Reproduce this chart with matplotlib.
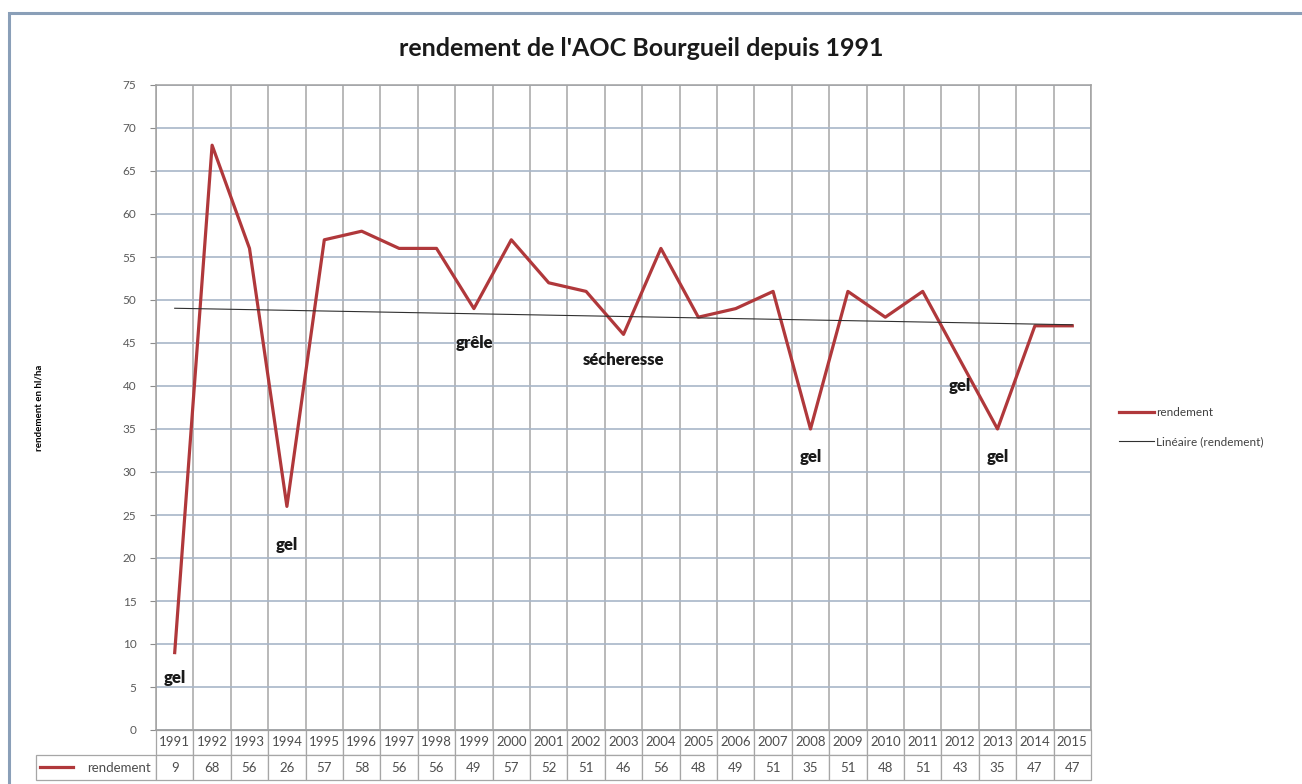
import matplotlib
matplotlib.use("Agg")
import matplotlib.pyplot as plt
import numpy as np
from matplotlib.patches import Rectangle

years = [1991, 1992, 1993, 1994, 1995, 1996, 1997, 1998, 1999, 2000, 2001, 2002, 2003,
         2004, 2005, 2006, 2007, 2008, 2009, 2010, 2011, 2012, 2013, 2014, 2015]
rendement = [9, 68, 56, 26, 57, 58, 56, 56, 49, 57, 52, 51, 46,
             56, 48, 49, 51, 35, 51, 48, 51, 43, 35, 47, 47]

# comments written on the chart (year, height in hl/ha)
notes = ['gel', 'gel', 'grêle', 'sécheresse', 'gel', 'gel', 'gel']
note_years = [1991, 1994, 1999, 2003, 2008, 2012, 2013]
note_y = [6.0, 21.5, 45.0, 43.0, 31.8, 40.0, 31.8]

plt.rcParams['font.family'] = ['Lato', 'DejaVu Sans']

W, H = 1302, 784
fig = plt.figure(figsize=(W / 100, H / 100), dpi=100)

# outer chart frame (only left and top visible)
fig.add_artist(Rectangle((9 / W, -0.1), 1.2, 1.1 - 13 / H, transform=fig.transFigure,
                         fill=False, edgecolor='#8a9fb8', linewidth=2.2))

x0, x1, y0, y1 = 156, 1091, 85, 730
ax = fig.add_axes([x0 / W, 1 - y1 / H, (x1 - x0) / W, (y1 - y0) / H])

xpos = np.arange(len(years))
red = '#b0383b'
ax.plot(xpos, rendement, color=red, lw=2.3, label='rendement', zorder=3)

a, b = np.polyfit(xpos, rendement, 1)
ax.plot(xpos, a * xpos + b, color='#303030', lw=0.8, label='Linéaire (rendement)', zorder=3)

ax.set_xlim(-0.5, len(years) - 0.5)
ax.set_ylim(0, 75)
ax.set_yticks(np.arange(0, 76, 5))
ax.set_xticks([])
ax.set_xticks(np.arange(-0.5, len(years), 1), minor=True)
ax.tick_params(axis='x', which='both', length=0, labelbottom=False)
ax.tick_params(axis='y', length=4, color='#8c8c8c', labelsize=8.5, labelcolor='#595959', pad=10)
ax.grid(axis='y', color='#a8b6c8', lw=1.2)
ax.grid(axis='x', which='minor', color='#a6a6a6', lw=1.1)
ax.set_axisbelow(True)
for s in ax.spines.values():
    s.set_color('#a0a0a0')
    s.set_linewidth(1.1)

ax.set_ylabel('rendement en hl/ha', fontsize=7, fontweight='bold')
ax.yaxis.set_label_coords((43 - x0) / (x1 - x0), 0.5)

for t, yr, yv in zip(notes, note_years, note_y):
    ax.text(years.index(yr), yv, t, ha='center', va='center', fontsize=12,
            fontweight='heavy', color='#1a1a1a', zorder=4)

# data table below the axis (bbox covers the year/value cells only)
cw = 1.0 / len(years)
tbl = ax.table(cellText=[[str(y) for y in years], [str(v) for v in rendement]],
               colWidths=[cw] * len(years), cellLoc='center',
               bbox=[0, -50 / (y1 - y0), 1, 50 / (y1 - y0)])
h = tbl[0, 0].get_height()
tbl.add_cell(1, -1, width=cw * 120 / 37.4, height=h, text='rendement', loc='right')
tbl.auto_set_font_size(False)
tbl.set_fontsize(9.5)
for (r, c), cell in tbl.get_celld().items():
    cell.set_edgecolor('#a6a6a6')
    cell.set_linewidth(0.9)
    cell.get_text().set_color('#4d4d4d')
    if c >= 0:
        cell.PAD = 0.02
tbl[1, -1].PAD = 0.04

# legend key inside the table row label
ax.plot([(40 - x0) / (x1 - x0), (73 - x0) / (x1 - x0)], [-37 / (y1 - y0)] * 2,
        color=red, lw=2.3, transform=ax.transAxes, clip_on=False)

ax.legend(loc='center left', bbox_to_anchor=(1108 / W, 1 - 427 / H),
          bbox_transform=fig.transFigure, frameon=False, fontsize=8.5,
          handlelength=3.0, handletextpad=0.15, labelspacing=1.5,
          labelcolor='#404040')

fig.text(641 / W, 1 - 48 / H, "rendement de l'AOC Bourgueil depuis 1991",
         ha='center', va='center', fontsize=18, fontweight='bold', color='#1a1a1a')

fig.savefig('out.png', dpi=100)
